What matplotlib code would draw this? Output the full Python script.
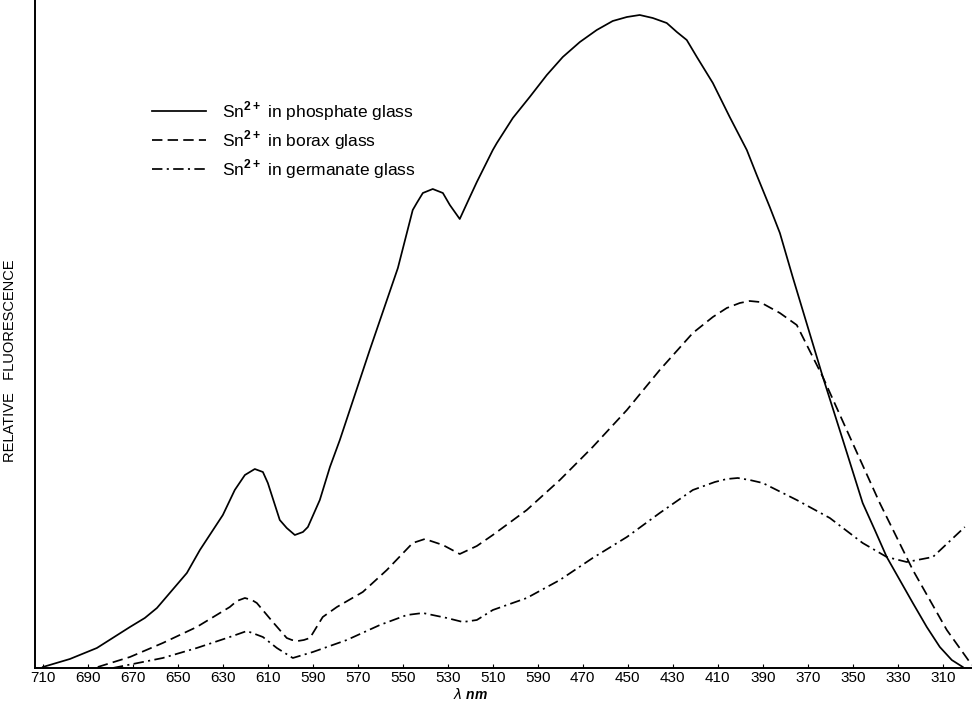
import matplotlib.pyplot as plt
import numpy as np

plt.rcParams['font.family'] = ['Liberation Sans', 'DejaVu Sans']
plt.rcParams['mathtext.fontset'] = 'custom'
plt.rcParams['mathtext.rm'] = 'Liberation Sans'
plt.rcParams['mathtext.bf'] = 'Liberation Sans:bold'

# -----------------------
# DATA (wavelength in nm, relative fluorescence in arbitrary units)
# -----------------------

wl_phosphate = [710, 698, 686, 671.3, 664.7, 659.3, 653.6, 646, 640.2, 630,
                624.7, 620.2, 615.8, 612.2, 610, 604.7, 601.6, 598, 594.4, 592.2,
                586.9, 582.4, 578, 564.7, 552.2, 545.6, 543.8, 541.1, 536.7, 532.2,
                529.1, 524.7, 520.2, 517.1, 510, 508.2, 501.1, 493.6, 486, 478.9,
                471.3, 463.8, 456.7, 450.4, 444.7, 438.9, 432.7, 428.2, 423.8, 419.3,
                412.2, 404.7, 397.1, 392.7, 386.9, 382.4, 376.7, 370, 363.3, 354.4,
                345.6, 340.2, 334.9, 323.3, 317.1, 311.3, 306, 301.1]
fl_phosphate = [1, 9, 20, 41, 50, 60, 75, 95, 118, 153,
                178, 193, 199, 196, 185, 148, 140, 133, 136, 141,
                168, 201, 228, 318, 400, 458, 465, 475, 479, 475,
                463, 449, 471, 486, 518, 525, 550, 571, 593, 611,
                626, 638, 647, 651, 653, 650, 645, 636, 628, 611,
                585, 551, 518, 493, 461, 435, 391, 341, 291, 228,
                165, 138, 111, 65, 41, 21, 8, 1]

wl_borax = [685.6, 671.3, 656.7, 641.6, 626.9, 623.8, 620.2, 617.1, 614.9, 607.8,
            601.6, 599.3, 596.7, 594, 591.3, 585.6, 579.3, 567.8, 557.1, 545.6,
            540.2, 532.2, 524.7, 517.1, 510, 494.9, 480.2, 465.6, 450.4, 435.8,
            421.1, 412.2, 406, 400.2, 395.8, 391.3, 382.4, 374.9, 363.3, 352.7,
            338, 323.3, 308.2, 297.1]
fl_borax = [1, 11, 25, 41, 61, 67, 70, 68, 65, 46,
            30, 28, 27, 28, 30, 51, 61, 76, 98, 125,
            129, 123, 114, 122, 133, 158, 188, 221, 258, 298,
            335, 351, 360, 365, 367, 366, 355, 343, 291, 238,
            165, 98, 38, 3]

wl_germanate = [678.9, 656.7, 641.6, 626.9, 619.3, 612.2, 606, 598.9, 590, 574.9,
                560.2, 548.2, 541.1, 530.4, 523.3, 517.1, 510, 494.9, 480.2, 465.6,
                450.4, 435.8, 421.1, 411.3, 406, 401.1, 395.8, 390, 374.9, 360.2,
                345.6, 334.9, 326, 314.4, 300.2]
fl_germanate = [0, 10, 20, 31, 37, 31, 20, 10, 16, 28,
                43, 53, 55, 50, 46, 48, 58, 70, 88, 110,
                131, 155, 178, 186, 189, 190, 188, 185, 168, 150,
                125, 111, 106, 111, 141]

tick_positions = np.arange(710, 309, -20)
tick_labels = ["710", "690", "670", "650", "630", "610", "590", "570", "550", "530",
               "510", "590", "470", "450", "430", "410", "390", "370", "350", "330", "310"]

series_labels = [r"Sn$^{\mathbf{2+}}$ in phosphate glass",
                 r"Sn$^{\mathbf{2+}}$ in borax glass",
                 r"Sn$^{\mathbf{2+}}$ in germanate glass"]

# -----------------------
# PLOT
# -----------------------

fig = plt.figure(figsize=(9.72, 7.03), dpi=100)
ax = fig.add_axes([35 / 972, 35 / 703, 937 / 972, 668 / 703])

line_kw = dict(color="black", lw=1.25, solid_joinstyle="round", dash_joinstyle="round")
ax.plot(wl_phosphate, fl_phosphate, label=series_labels[0], **line_kw)
ax.plot(wl_borax, fl_borax, dashes=(6, 3), label=series_labels[1], **line_kw)
ax.plot(wl_germanate, fl_germanate, dashes=(6, 2.5, 1.2, 2.5), label=series_labels[2], **line_kw)

ax.set_xlim(713.5, 297)
ax.set_ylim(0, 668)

ax.spines["top"].set_visible(False)
ax.spines["right"].set_visible(False)
ax.spines["left"].set_linewidth(1.4)
ax.spines["bottom"].set_linewidth(1.4)

ax.set_xticks(tick_positions)
ax.set_xticklabels(tick_labels)
ax.set_yticks([])
ax.tick_params(axis="x", direction="in", length=3, width=0.8, pad=2, labelsize=11)

ax.set_ylabel("RELATIVE   FLUORESCENCE", fontsize=10.5)
ax.yaxis.set_label_coords(-0.019, 0.46)

fig.text(470 / 972, 1 - 702 / 703, r"$\lambda$ nm", fontsize=10, ha="center", va="bottom",
         fontweight="bold", style="italic")

ax.legend(loc="center left", bbox_to_anchor=(152 / 972, 1 - 140 / 703),
          bbox_transform=fig.transFigure, frameon=False, fontsize=12.5,
          handlelength=3.1, handletextpad=0.95, labelspacing=0.3,
          borderpad=0, borderaxespad=0)

fig.savefig("out.png", dpi=100)
